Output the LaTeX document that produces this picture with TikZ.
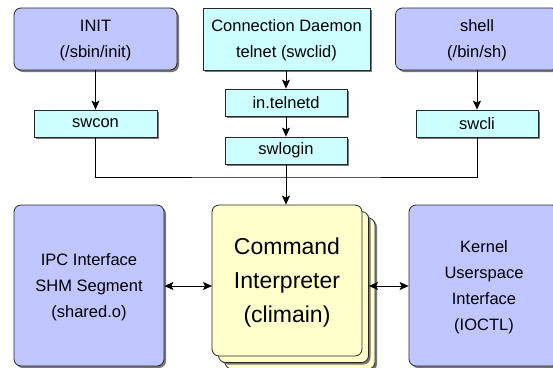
\documentclass[tikz,border=0pt]{standalone}
\usepackage{fontspec}
\setmainfont{Liberation Sans}
\usetikzlibrary{arrows.meta,shadows}
\definecolor{procblue}{RGB}{192,198,255}
\definecolor{progcyan}{RGB}{204,255,255}
\definecolor{cliyellow}{RGB}{255,255,204}
\definecolor{shadowgray}{RGB}{120,120,120}
\tikzset{
  shade/.style={drop shadow={shadow xshift=2pt,shadow yshift=-2pt,fill=shadowgray,opacity=1}},
  bigbox/.style={draw=black!85,line width=0.8pt,rounded corners=7pt,fill=procblue,shade,
    align=center,inner sep=0pt,text depth=0pt,font=\fontsize{16.5}{26}\selectfont},
  daemonbox/.style={draw=black!85,line width=0.8pt,fill=progcyan,shade,
    align=center,inner sep=0pt,text depth=0pt,font=\fontsize{16.5}{26}\selectfont},
  progbox/.style={draw=black!85,line width=0.8pt,fill=progcyan,shade,
    minimum width=122pt,minimum height=27pt,inner sep=0pt,font=\fontsize{16.5}{20}\selectfont},
  clibox/.style={draw=black!85,line width=0.8pt,rounded corners=7pt,fill=cliyellow,
    minimum width=150pt,minimum height=151pt,inner sep=0pt,align=center,text depth=0pt,
    font=\fontsize{23}{34}\selectfont},
  flow/.style={line width=0.8pt,-{Stealth[length=9pt,width=8pt,inset=2pt]}},
  both/.style={line width=0.8pt,{Stealth[length=9pt,width=8pt,inset=2pt]}-{Stealth[length=9pt,width=8pt,inset=2pt]}},
  link/.style={line width=0.8pt}
}
\begin{document}
\begin{tikzpicture}[x=1pt,y=-1pt]
\useasboundingbox (0,0) rectangle (553,367);

% top row: process sources
\node[bigbox,minimum width=163pt,minimum height=62pt] (init) at (95.5,39) {INIT\\(/sbin/init)};
\node[daemonbox,minimum width=167pt,minimum height=62pt] (daemon) at (286.5,39) {Connection Daemon\\telnet (swclid)};
\node[bigbox,minimum width=163pt,minimum height=62pt] (shell) at (477,39) {shell\\(/bin/sh)};

% front-end programs
\node[progbox,minimum width=123pt] (swcon) at (95.5,123.5) {swcon};
\node[progbox] (telnetd) at (286,102.5) {in.telnetd};
\node[progbox] (swlogin) at (286,150.5) {swlogin};
\node[progbox] (swcli) at (477,123.5) {swcli};

% bottom row
\node[bigbox,minimum width=150pt,minimum height=161pt] (ipc) at (89,285.5) {IPC Interface\\SHM Segment\\(shared.o)};
\node[bigbox,minimum width=150pt,minimum height=161pt] (kernel) at (484,285.5) {Kernel\\Userspace\\Interface\\(IOCTL)};

% stacked command interpreter instances
\node[clibox,shade] (ci3) at (300,293.5) {};
\node[clibox,shade] (ci2) at (293.5,287) {};
\node[clibox] (ci) at (287,280.5) {Command\\Interpreter\\(climain)};

% connectors
\coordinate (join) at (286,177);
\coordinate (ciL) at (212,286);
\coordinate (ciR) at (369,286);
\draw[flow] (init) -- (swcon);
\draw[flow] (shell) -- (swcli);
\draw[flow] (daemon.south -| telnetd) -- (telnetd);
\draw[flow] (telnetd) -- (swlogin);
\draw[link] (swcon) |- (join) -| (swcli);
\draw[flow] (swlogin) -- (swlogin |- ci.north);
\draw[both] (ipc.east |- ciL) -- (ciL);
\draw[both] (ciR) -- (kernel.west |- ciR);
\end{tikzpicture}
\end{document}
